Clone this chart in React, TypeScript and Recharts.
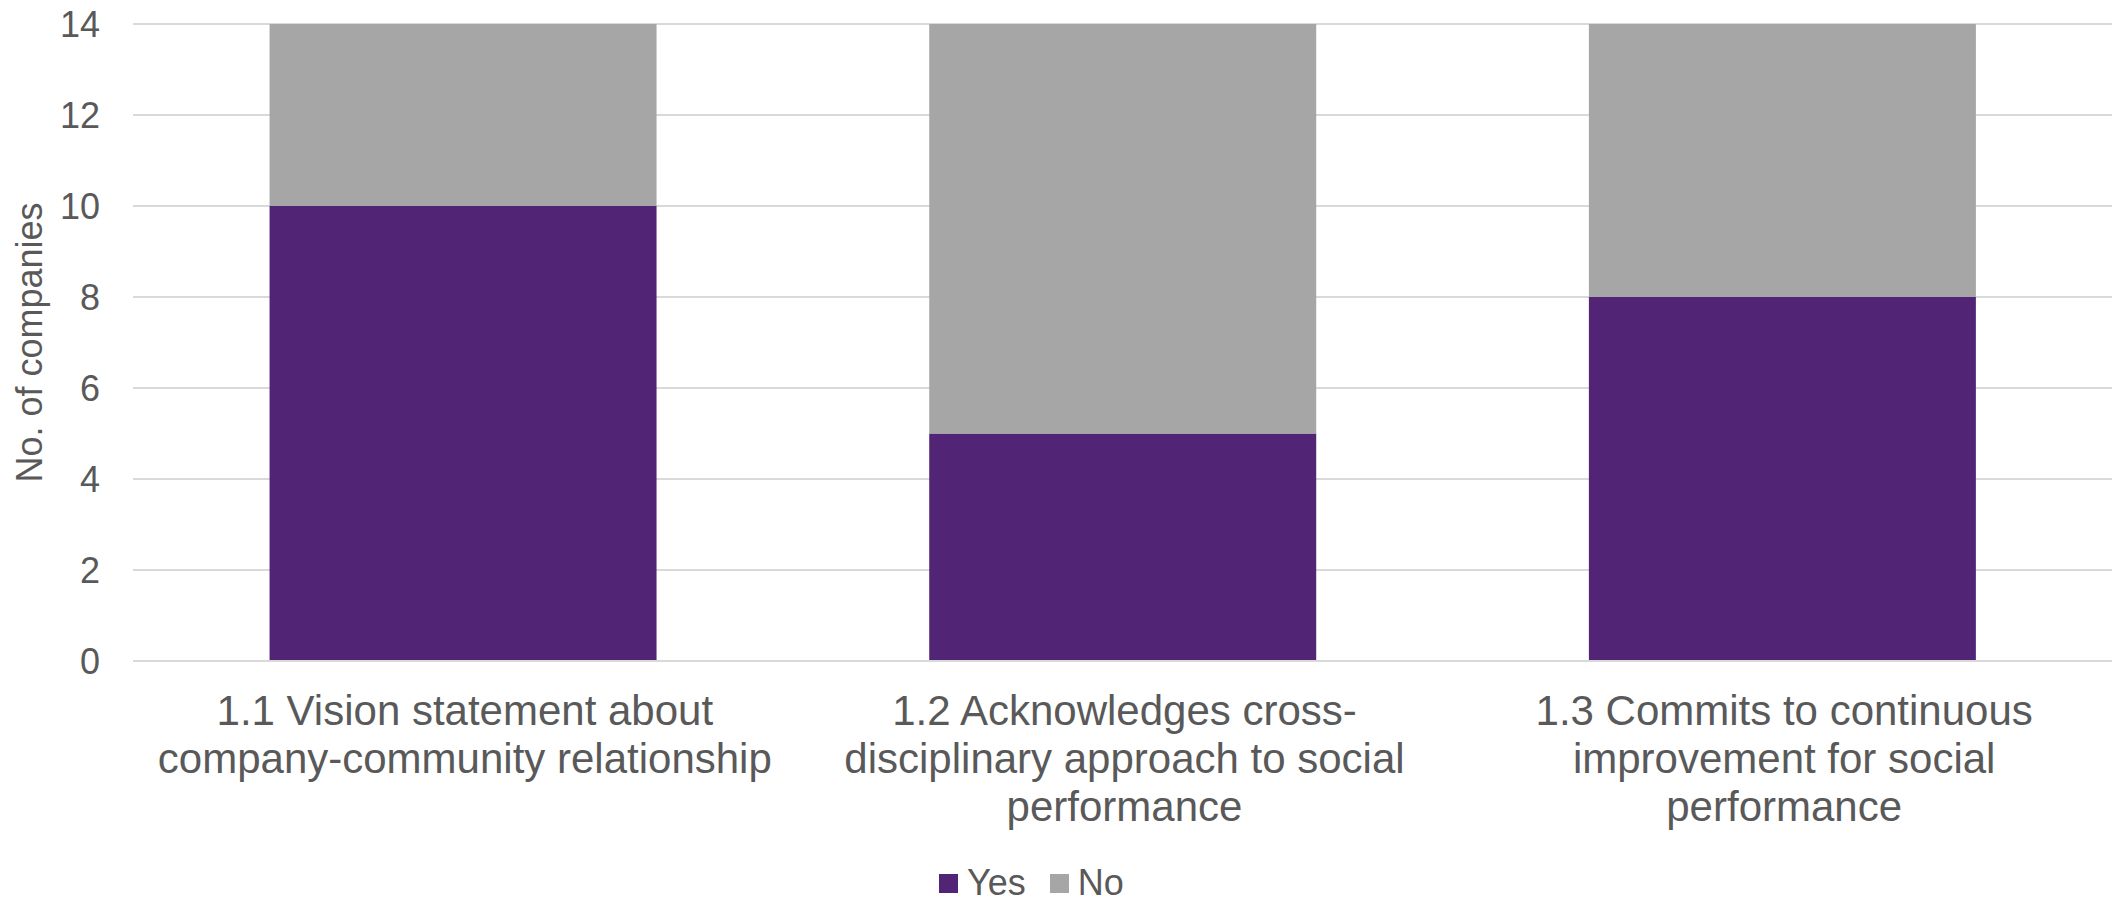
import React from "react";
import { BarChart, Bar, XAxis, YAxis, CartesianGrid, Legend } from "recharts";

const categories = [
  "1.1 Vision statement about company-community relationship",
  "1.2 Acknowledges cross-disciplinary approach to social performance",
  "1.3 Commits to continuous improvement for social performance",
];
const categoryLines = [
  ["1.1 Vision statement about", "company-community relationship"],
  ["1.2 Acknowledges cross-", "disciplinary approach to social", "performance"],
  ["1.3 Commits to continuous", "improvement for social", "performance"],
];
const yesValues = [10, 5, 8];
const noValues = [4, 9, 6];
const yTicks = [0, 2, 4, 6, 8, 10, 12, 14];
const seriesNames = ["Yes", "No"];

const PURPLE = "#522476";
const GRAY = "#A6A6A6";
const TEXT = "#595959";
const GRID = "#D9D9D9";
const FONT = "'Liberation Sans', Arial, sans-serif";

const data = categories.map((c, i) => ({
  name: c,
  idx: i,
  yes: yesValues[i],
  no: noValues[i],
}));

const XTick = (props: any) => {
  const { x, y, payload } = props;
  const i = categories.indexOf(payload.value);
  const lines = i >= 0 ? categoryLines[i] : [String(payload.value)];
  return (
    <g>
      {lines.map((l: string, k: number) => (
        <text
          key={k}
          x={x + 2}
          y={y + 64 + k * 48}
          textAnchor="middle"
          fill={TEXT}
          fontSize={42}
          fontFamily={FONT}
        >
          {l}
        </text>
      ))}
    </g>
  );
};

const YLabel = (props: any) => {
  const { viewBox } = props;
  const cy = viewBox.y + viewBox.height / 2;
  const x = 42;
  return (
    <text
      x={x}
      y={cy}
      transform={`rotate(-90, ${x}, ${cy})`}
      textAnchor="middle"
      fill={TEXT}
      fontSize={36}
      fontFamily={FONT}
    >
      No. of companies
    </text>
  );
};

const LegendContent = () => {
  const colors = [PURPLE, GRAY];
  return (
    <div style={{ display: "flex", alignItems: "center", height: 40, fontFamily: FONT }}>
      {seriesNames.map((n, i) => (
        <div key={n} style={{ display: "flex", alignItems: "center", marginRight: i === 0 ? 24 : 0 }}>
          <div style={{ width: 19, height: 19, background: colors[i], marginRight: 9 }} />
          <span style={{ fontSize: 36, lineHeight: "40px", color: TEXT }}>{n}</span>
        </div>
      ))}
    </div>
  );
};

export default function App() {
  return (
    <div style={{ position: "absolute", left: 0, top: 0, width: 2112, height: 900, background: "#fff", fontFamily: FONT }}>
      <BarChart
        width={2112}
        height={900}
        data={data}
        margin={{ top: 24, right: 0, bottom: 0, left: 0 }}
        barCategoryGap="20.7%"
      >
        <CartesianGrid vertical={false} stroke={GRID} strokeWidth={2} />
        <XAxis
          dataKey="name"
          height={239}
          tick={<XTick />}
          tickLine={false}
          tickSize={0}
          tickMargin={0}
          axisLine={{ stroke: GRID, strokeWidth: 2 }}
          interval={0}
        />
        <YAxis
          width={133}
          domain={[0, 14]}
          ticks={yTicks}
          tickLine={false}
          tickSize={0}
          tickMargin={33}
          axisLine={false}
          tick={{ fill: TEXT, fontSize: 36, fontFamily: FONT }}
          label={<YLabel />}
        />
        <Legend
          layout="horizontal"
          verticalAlign="middle"
          align="center"
          content={<LegendContent />}
          wrapperStyle={{ position: "absolute", left: 939, top: 863, width: "auto", height: 40, margin: 0 }}
        />
        <Bar dataKey="yes" name="Yes" stackId="a" fill={PURPLE} isAnimationActive={false} />
        <Bar dataKey="no" name="No" stackId="a" fill={GRAY} isAnimationActive={false} />
      </BarChart>
    </div>
  );
}
